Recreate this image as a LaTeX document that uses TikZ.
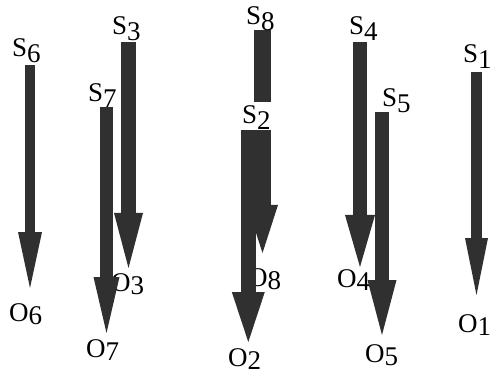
\documentclass[tikz,border=0pt]{standalone}
\usepackage{fontspec}
\setmainfont{Liberation Serif}
\usetikzlibrary{arrows.meta}
\definecolor{arrowgray}{RGB}{48,48,48}
\newcommand{\slab}[2]{#1\raisebox{-6pt}{#2}}
\newcommand{\olab}[2]{#1\raisebox{-3pt}{#2}}
\tikzset{
  lab/.style={anchor=base west, inner sep=0pt, font=\fontsize{27}{27}\selectfont},
  fat/.style n args={3}{draw=arrowgray, line width=#1, line cap=butt,
    -{Triangle[width=#2,length=#3,line width=0pt,fill=arrowgray]}},
}
\begin{document}
\begin{tikzpicture}[x=1pt,y=-1pt]
\useasboundingbox (0,0) rectangle (493,377);
% output labels (drawn first, arrows may cover them)
\node[lab] (o6) at (9,321) {\olab{O}{6}};
\node[lab] (o7) at (86,357) {\olab{O}{7}};
\node[lab] (o3) at (111,291) {\olab{O}{3}};
\node[lab] (o8) at (248,286) {\olab{O}{8}};
\node[lab] (o2) at (228,366) {\olab{O}{2}};
\node[lab] (o4) at (337,287) {\olab{O}{4}};
\node[lab] (o5) at (365,362) {\olab{O}{5}};
\node[lab] (o1) at (458,332) {\olab{O}{1}};
% arrow end points
\coordinate (t6) at (30,65);    \coordinate (h6) at (30,288);
\coordinate (t3) at (128.5,42); \coordinate (h3) at (128.5,268);
\coordinate (t7) at (106.5,107);\coordinate (h7) at (106.5,333);
\coordinate (t8) at (262.5,30); \coordinate (h8) at (262.5,253);
\coordinate (t2) at (248.3,130);\coordinate (h2) at (248.3,342);
\coordinate (t4) at (360,42);   \coordinate (h4) at (360,267);
\coordinate (t5) at (382,112);  \coordinate (h5) at (382,335);
\coordinate (t1) at (476.5,72); \coordinate (h1) at (476.5,295);
% arrows
\draw[fat={10pt}{24pt}{56pt}] (t6) -- (h6);
\draw[fat={15pt}{29pt}{55pt}] (t3) -- (h3);
\draw[fat={13pt}{26pt}{56pt}] (t7) -- (h7);
\draw[fat={17pt}{31pt}{48pt}] (t8) -- (h8);
\draw[fat={14pt}{30pt}{52pt}] (t4) -- (h4);
\draw[fat={14pt}{29pt}{55pt}] (t5) -- (h5);
\draw[fat={11pt}{23pt}{57pt}] (t1) -- (h1);
% S2 label covers part of S8 shaft
\node[lab, fill=white, text height=22pt, text depth=6pt] (s2) at (242,124) {\slab{S}{2}\hspace{6pt}};
\draw[fat={15.5pt}{33pt}{50pt}] (t2) -- (h2);
% source labels
\node[lab] (s6) at (12,57) {\slab{S}{6}};
\node[lab] (s3) at (112,35) {\slab{S}{3}};
\node[lab] (s7) at (88,102) {\slab{S}{7}};
\node[lab] (s8) at (246,25) {\slab{S}{8}};
\node[lab] (s4) at (349,35) {\slab{S}{4}};
\node[lab] (s5) at (382,107) {\slab{S}{5}};
\node[lab] (s1) at (463,63) {\slab{S}{1}};
\end{tikzpicture}
\end{document}
